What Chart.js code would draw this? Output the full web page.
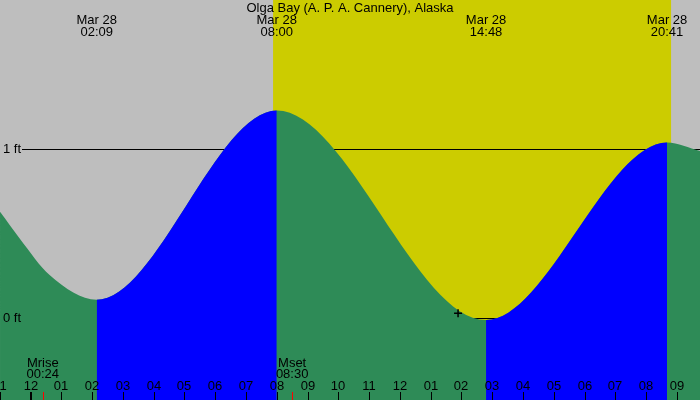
<!DOCTYPE html>
<html>
<head>
<meta charset="utf-8">
<script src="https://cdn.jsdelivr.net/npm/chart.js@4/dist/chart.umd.min.js"></script>
<style>
  html, body { margin: 0; padding: 0; background: #bebebe; }
  #wrap { width: 700px; height: 400px; }
</style>
</head>
<body>
<div id="wrap"><canvas id="tideChart" width="700" height="400"></canvas></div>
<script>
const title = "Olga Bay (A. P. A. Cannery), Alaska";

// tide curve (hours from midnight Mar 28, feet)
const tideHours = [-0.99, -0.34, 0.63, 2.15, 8.0, 14.8, 20.68, 21.75];
const tideFeet  = [0.63, 0.47, 0.255, 0.11, 1.23, -0.01, 1.04, 0.99];

// high / low events shown on top
const eventHours  = [2.15, 8.0, 14.8, 20.68];
const eventDates  = ["Mar 28", "Mar 28", "Mar 28", "Mar 28"];
const eventClocks = ["02:09", "08:00", "14:48", "20:41"];

// daylight
const sunriseHour = 7.88;
const sunsetHour = 20.81;

// moon
const moonHours  = [0.4, 8.5];
const moonNames  = ["Mrise", "Mset"];
const moonClocks = ["00:24", "08:30"];

// hour ticks along the bottom
const tickHours  = [-1, 0, 1, 2, 3, 4, 5, 6, 7, 8, 9, 10, 11, 12, 13, 14, 15, 16, 17, 18, 19, 20, 21];
const tickLabels = ["11", "12", "01", "02", "03", "04", "05", "06", "07", "08", "09", "10",
                    "11", "12", "01", "02", "03", "04", "05", "06", "07", "08", "09"];

// level lines
const levelFeet   = [0, 1];
const levelLabels = ["0 ft", "1 ft"];

// the small cross marker
const markerHour = 13.89;
const markerFeet = 0.03;

const GRAY = "#bebebe";
const YELLOW = "#cccc00";
const GREEN = "#2e8b57";
const BLUE = "#0000ff";
const FONT = "13px 'Liberation Sans', Arial, sans-serif";

const backdrop = {
  id: "backdrop",
  beforeDraw(chart) {
    const { ctx, scales: { x } } = chart;
    ctx.save();
    ctx.fillStyle = GRAY;
    ctx.fillRect(0, 0, chart.width, chart.height);
    const x0 = x.getPixelForValue(sunriseHour);
    const x1 = x.getPixelForValue(sunsetHour);
    ctx.fillStyle = YELLOW;
    ctx.fillRect(x0, 0, x1 - x0, chart.height);
    ctx.restore();
  },
  beforeDatasetsDraw(chart) {
    const { ctx, scales: { y } } = chart;
    ctx.save();
    ctx.strokeStyle = "#000";
    ctx.lineWidth = 1;
    levelFeet.forEach(v => {
      const py = Math.round(y.getPixelForValue(v)) + 0.5;
      ctx.beginPath();
      ctx.moveTo(22, py);
      ctx.lineTo(chart.width, py);
      ctx.stroke();
    });
    ctx.restore();
  },
  afterDraw(chart) {
    const { ctx, scales: { x, y } } = chart;
    ctx.save();
    ctx.font = FONT;
    ctx.fillStyle = "#000";
    ctx.textBaseline = "alphabetic";

    ctx.textAlign = "center";
    ctx.fillText(title, 350, 12);
    eventHours.forEach((h, i) => {
      const px = x.getPixelForValue(h);
      ctx.fillText(eventDates[i], px, 24);
      ctx.fillText(eventClocks[i], px, 36);
    });

    moonHours.forEach((h, i) => {
      const px = x.getPixelForValue(h);
      ctx.fillText(moonNames[i], px, 367);
      ctx.fillText(moonClocks[i], px, 378);
    });

    tickHours.forEach((h, i) => {
      const px = Math.round(x.getPixelForValue(h));
      ctx.fillText(tickLabels[i], px, 390);
      if (h === 0) {
        ctx.fillRect(px - 1, 392, 2, 8);
      } else {
        ctx.fillRect(px, 392, 1, 8);
      }
    });

    ctx.fillStyle = "#ff0000";
    moonHours.forEach(h => {
      const px = Math.round(x.getPixelForValue(h));
      ctx.fillRect(px, 392, 1, 8);
    });

    ctx.fillStyle = "#000";
    ctx.textAlign = "left";
    levelFeet.forEach((v, i) => {
      const py = y.getPixelForValue(v);
      ctx.fillText(levelLabels[i], 3, py + 3.5);
    });
    ctx.restore();
  }
};

const tidePoints = tideHours.map((h, i) => ({ x: h, y: tideFeet[i] }));

new Chart(document.getElementById("tideChart"), {
  type: "line",
  data: {
    datasets: [
      {
        type: "scatter",
        data: [{ x: markerHour, y: markerFeet }],
        pointStyle: "cross",
        pointRadius: 4,
        borderColor: "#000",
        borderWidth: 1.5
      },
      {
        // rising water in blue, laid over the falling (green) base
        data: tidePoints,
        fill: "start",
        borderWidth: 0,
        borderColor: "rgba(0,0,0,0)",
        backgroundColor: "rgba(0,0,0,0)",
        pointRadius: 0,
        cubicInterpolationMode: "monotone",
        segment: {
          backgroundColor: c => c.p1.parsed.y > c.p0.parsed.y ? BLUE : "rgba(0,0,0,0)"
        }
      },
      {
        data: tidePoints,
        fill: "start",
        borderWidth: 0,
        borderColor: "rgba(0,0,0,0)",
        backgroundColor: GREEN,
        pointRadius: 0,
        cubicInterpolationMode: "monotone"
      }
    ]
  },
  options: {
    responsive: false,
    animation: false,
    layout: { padding: 0, autoPadding: false },
    plugins: { legend: { display: false }, tooltip: { enabled: false } },
    scales: {
      x: { type: "linear", min: -0.991, max: 21.75, display: false },
      y: { min: -0.483, max: 1.883, display: false }
    }
  },
  plugins: [backdrop]
});
</script>
</body>
</html>
